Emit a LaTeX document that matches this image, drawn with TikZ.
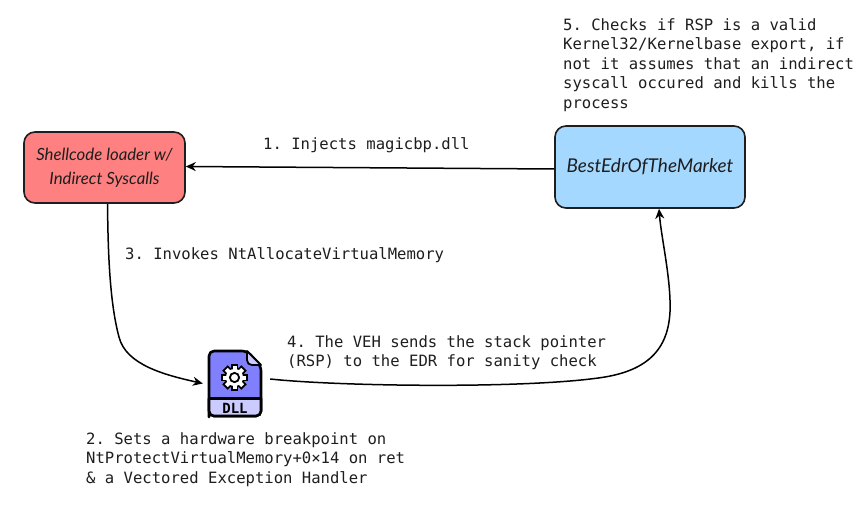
\documentclass[tikz,border=0pt]{standalone}
\usepackage{fontspec}
\usetikzlibrary{arrows.meta}
\setmonofont{DejaVu Sans Mono}
\newfontfamily\handfont{Lato}
\definecolor{ink}{HTML}{1E1E1E}
\definecolor{redfill}{HTML}{FF8080}
\definecolor{bluefill}{HTML}{A5D8FF}
\definecolor{dllbody}{HTML}{8080FF}
\definecolor{dllband}{HTML}{CBCBFF}
\tikzset{
  boxnode/.style={draw=ink,line width=1.6pt,rounded corners=11pt,inner sep=0pt,align=center,text=ink},
  note/.style={inner sep=0pt,align=left,anchor=west,text=ink,font=\ttfamily\frenchspacing\fontsize{15.58}{19.4}\selectfont},
  conn/.style={draw=black,line width=1.5pt,-{Stealth[length=10pt,width=9pt]}},
  iconline/.style={draw=black,line width=2.6pt,line join=round},
}
\begin{document}
\begin{tikzpicture}[x=1pt,y=-1pt]
\useasboundingbox (0,0) rectangle (864,516);
\fill[white] (0,0) rectangle (864,516);
% boxes
\node[boxnode,fill=redfill,minimum width=161pt,minimum height=71pt,font=\handfont\itshape\fontsize{16.8}{24}\selectfont] (loader) at (104.5,167.5) {Shellcode loader w/\\Indirect Syscalls};
\node[boxnode,fill=bluefill,minimum width=190pt,minimum height=82pt,font=\handfont\itshape\fontsize{19}{24}\selectfont] (edr) at (650,167) {BestEdrOfTheMarket};
% DLL icon holder
\node[inner sep=0pt,minimum width=67pt,minimum height=67pt] (dll) at (236.5,383.5) {};
% icon
\path[iconline,fill=dllbody,rounded corners=5pt] (209,412) -- (209,351) -- (247,351) -- (261,366) -- (261,416) -- (209,416) -- cycle;
\path[iconline,fill=dllband] (209,398.5) -- (261,398.5) [rounded corners=5pt] -- (261,416) -- (209,416) [sharp corners] -- cycle;
\path[draw=black,line width=1.8pt,fill=dllband,line join=round] (247,351) -- (247,360) .. controls (247,363) and (249,365) .. (252,365) -- (261,365) -- cycle;
\foreach \a in {0,45,...,315}{\draw[black,line width=7.5pt] (234.5,377.5) -- ++(\a:13.6);}
\fill[black] (234.5,377.5) circle (10.5);
\foreach \a in {0,45,...,315}{\draw[white,line width=4pt] (234.5,377.5) -- ++(\a:11.6);}
\fill[white] (234.5,377.5) circle (8.6);
\draw[black,line width=1.8pt] (234.5,377.5) circle (4.6);
\node[inner sep=0pt,font=\fontspec{DejaVu Sans Mono}\bfseries\fontsize{14}{14}\selectfont] (dlltext) at (235,408) {DLL};
% connectors
\draw[conn] ([yshift=-2pt]edr.west) -- ([yshift=1pt]loader.east);
\draw[conn] ([xshift=3pt]loader.south) .. controls (108,245) and (109,300) .. (119,337) .. controls (126,365) and (165,375) .. (dll.west);
\draw[conn] ([yshift=4.5pt]dll.east) .. controls (340,386.5) and (530,389) .. (605,377) .. controls (652,369) and (672,345) .. (670,300) .. controls (669,270) and (661,235) .. ([xshift=9pt]edr.south);
% labels
\node[note] (n1) at (263,145.5) {1. Injects magicbp.dll};
\node[note] (n3) at (125,255.5) {3. Invokes NtAllocateVirtualMemory};
\node[note] (n4) at (287,352.5) {4. The VEH sends the stack pointer\\(RSP) to the EDR for sanity check};
\node[note] (n2) at (86,459.5) {2. Sets a hardware breakpoint on\\NtProtectVirtualMemory+0×14 on ret\\\& a Vectored Exception Handler};
\node[note] (n5) at (563,65) {5. Checks if RSP is a valid\\Kernel32/Kernelbase export, if\\not it assumes that an indirect\\syscall occured and kills the\\process};
\end{tikzpicture}
\end{document}
